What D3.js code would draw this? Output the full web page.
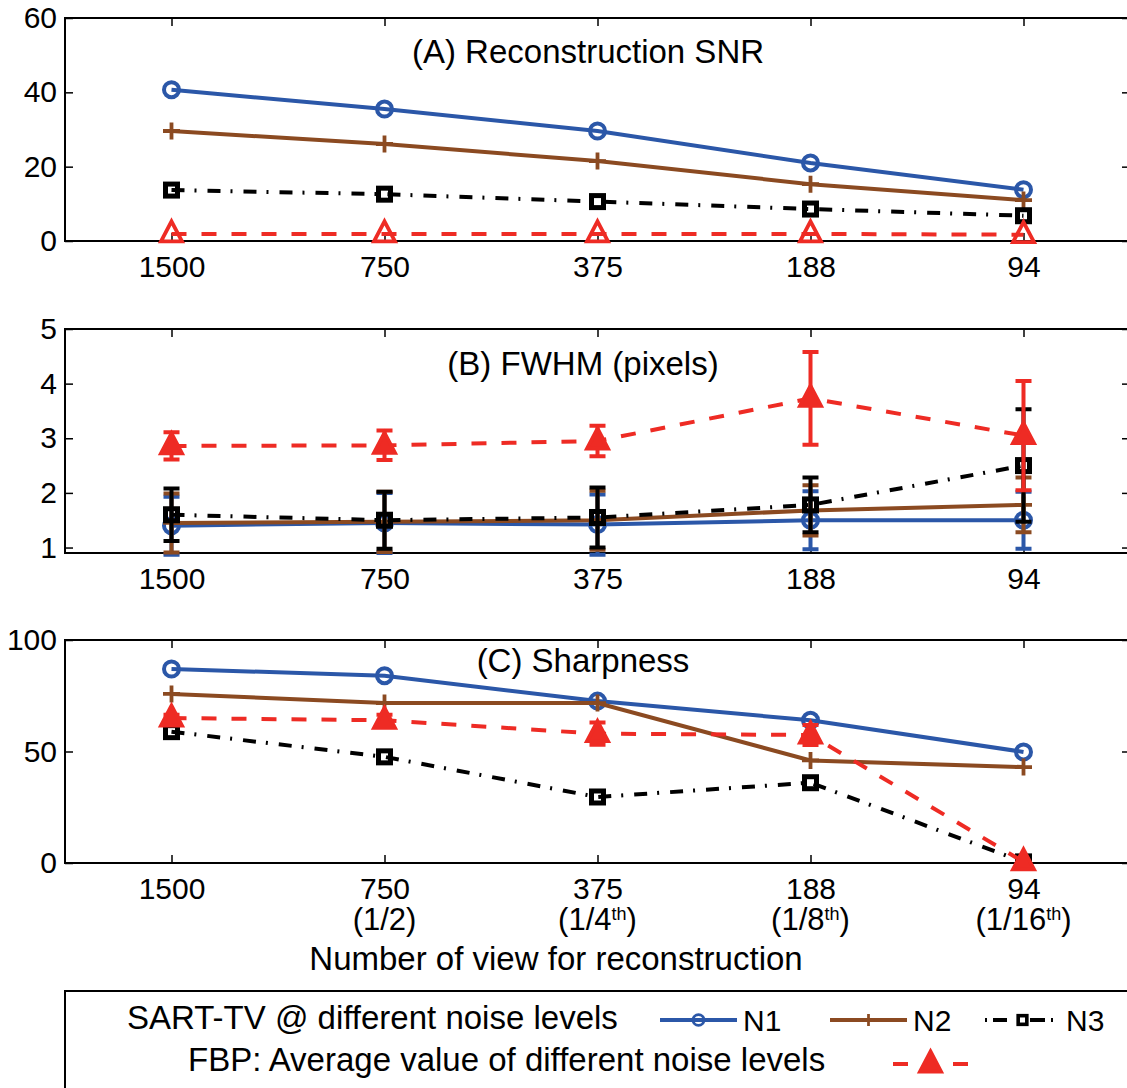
<!DOCTYPE html>
<html>
<head>
<meta charset="utf-8">
<script src="https://cdn.jsdelivr.net/npm/d3@7"></script>
<style>
  body { margin: 0; background: #fff; }
  svg text { font-family: "Liberation Sans", Arial, Helvetica, sans-serif; fill: #000; }
</style>
</head>
<body>
<svg id="chart" width="1127" height="1088"></svg>
<script>
// ---- data -------------------------------------------------------------
const views = ["1500", "750", "375", "188", "94"];
const viewFraction = ["", "1/2", "1/4", "1/8", "1/16"];
const fractionSup = ["", "", "th", "th", "th"];

// (A) reconstruction SNR
const snrN1 = [40.7, 35.5, 29.6, 21.0, 13.8];
const snrN2 = [29.6, 26.1, 21.5, 15.3, 11.0];
const snrN3 = [13.7, 12.6, 10.6, 8.6, 6.8];
const snrFBP = [1.9, 1.9, 1.9, 1.9, 1.7];

// (B) FWHM in pixels, with standard deviations
const fwhmN1 = [1.40, 1.45, 1.42, 1.50, 1.50];
const fwhmN1Err = [0.53, 0.55, 0.55, 0.53, 0.52];
const fwhmN2 = [1.45, 1.47, 1.50, 1.68, 1.78];
const fwhmN2Err = [0.54, 0.55, 0.54, 0.46, 0.50];
const fwhmN3 = [1.60, 1.50, 1.55, 1.78, 2.50];
const fwhmN3Err = [0.48, 0.52, 0.55, 0.50, 1.03];
const fwhmFBP = [2.86, 2.87, 2.95, 3.73, 3.05];
const fwhmFBPErr = [0.25, 0.27, 0.28, 0.85, 1.00];

// (C) sharpness
const sharpN1 = [87.0, 84.0, 72.6, 64.0, 49.8];
const sharpN2 = [75.8, 71.7, 71.7, 46.0, 43.0];
const sharpN3 = [58.9, 47.6, 29.6, 36.0, 0.5];
const sharpFBP = [65.0, 64.0, 58.0, 57.4, 0.5];
const sharpFBPErr = [1.5, 2.5, 5.0, 4.5, 0.0];

// ---- styles -----------------------------------------------------------
const seriesStyle = {
  N1:  { color: "#2b57a8", dash: null,           marker: "circle"   },
  N2:  { color: "#8b4a21", dash: null,           marker: "plus"     },
  N3:  { color: "#000000", dash: "13,10,2,11",   marker: "square"   },
  FBP: { color: "#ee2b24", dash: "15,15",        marker: "triangle" }
};

const panels = [
  { title: "(A) Reconstruction SNR", titleX: 588, titleY: 63,
    top: 18, bottom: 241, domain: [0, 60], ticks: [0, 20, 40, 60], filledTri: false,
    series: [["N1", snrN1], ["N2", snrN2], ["N3", snrN3], ["FBP", snrFBP]] },
  { title: "(B) FWHM (pixels)", titleX: 583, titleY: 375,
    top: 329, bottom: 553, domain: [0.9, 5], ticks: [1, 2, 3, 4, 5], filledTri: true,
    series: [["N1", fwhmN1, fwhmN1Err], ["N2", fwhmN2, fwhmN2Err],
             ["N3", fwhmN3, fwhmN3Err], ["FBP", fwhmFBP, fwhmFBPErr]] },
  { title: "(C) Sharpness", titleX: 583, titleY: 672,
    top: 640, bottom: 863, domain: [0, 100], ticks: [0, 50, 100], filledTri: true,
    series: [["N1", sharpN1], ["N2", sharpN2], ["N3", sharpN3], ["FBP", sharpFBP, sharpFBPErr]] }
];

const svg = d3.select("#chart");
const left = 65, right = 1130;
const x = d3.scaleLinear().domain([0.5, 5.5]).range([left, right]);
const tickIdx = d3.range(1, views.length + 1);

function drawMarker(g, type, cx, cy, color, filled, scale = 1) {
  if (type === "circle") {
    g.append("circle").attr("cx", cx).attr("cy", cy).attr("r", 7.5 * scale)
      .attr("fill", "none").attr("stroke", color).attr("stroke-width", 4 * scale);
  } else if (type === "plus") {
    const a = 8.5 * scale;
    g.append("path").attr("d", `M${cx - a},${cy}H${cx + a}M${cx},${cy - a}V${cy + a}`)
      .attr("stroke", color).attr("stroke-width", 3.8 * scale).attr("fill", "none");
  } else if (type === "square") {
    const s = 12 * scale;
    g.append("rect").attr("x", cx - s / 2).attr("y", cy - s / 2).attr("width", s).attr("height", s)
      .attr("fill", "none").attr("stroke", color).attr("stroke-width", 5 * scale);
  } else if (type === "triangle") {
    const w = 10.5 * scale, t = 12.5 * scale, b = 7.5 * scale;
    g.append("path").attr("d", `M${cx},${cy - t}L${cx + w},${cy + b}L${cx - w},${cy + b}Z`)
      .attr("fill", filled ? color : "none").attr("stroke", color)
      .attr("stroke-width", 3.8 * scale).attr("stroke-linejoin", "miter");
  }
}

panels.forEach(p => {
  const y = d3.scaleLinear().domain(p.domain).range([p.bottom, p.top]);
  const g = svg.append("g");

  // tick marks on all four sides, pointing inward
  g.append("g").attr("transform", `translate(0,${p.bottom})`)
    .call(d3.axisBottom(x).tickValues(tickIdx).tickFormat(i => views[i - 1])
      .tickSizeInner(-8).tickSizeOuter(0).tickPadding(15))
    .call(a => a.select(".domain").remove())
    .call(a => a.selectAll("text").attr("font-size", 30).attr("font-family", null));
  g.append("g").attr("transform", `translate(0,${p.top})`)
    .call(d3.axisTop(x).tickValues(tickIdx).tickFormat("").tickSizeInner(-8).tickSizeOuter(0))
    .call(a => a.select(".domain").remove());
  g.append("g").attr("transform", `translate(${left},0)`)
    .call(d3.axisLeft(y).tickValues(p.ticks).tickFormat(d3.format("d"))
      .tickSizeInner(-8).tickSizeOuter(0).tickPadding(8))
    .call(a => a.select(".domain").remove())
    .call(a => a.selectAll("text").attr("font-size", 30).attr("font-family", null));
  g.append("g").attr("transform", `translate(${right},0)`)
    .call(d3.axisRight(y).tickValues(p.ticks).tickFormat("").tickSizeInner(-8).tickSizeOuter(0))
    .call(a => a.select(".domain").remove());
  g.selectAll(".tick line").attr("stroke", "#000").attr("stroke-width", 1.5);

  // axes box
  g.append("rect").attr("x", left).attr("y", p.top)
    .attr("width", right - left).attr("height", p.bottom - p.top)
    .attr("fill", "none").attr("stroke", "#000").attr("stroke-width", 2);

  g.append("text").attr("x", p.titleX).attr("y", p.titleY)
    .attr("text-anchor", "middle").attr("font-size", 33).text(p.title);

  const line = d3.line().x((d, i) => x(i + 1)).y(d => y(d));
  p.series.forEach(([name, vals, errs]) => {
    const st = seriesStyle[name];
    const sg = g.append("g");
    if (errs) {
      vals.forEach((v, i) => {
        if (!errs[i]) return;
        const cx = x(i + 1), y0 = y(v - errs[i]), y1 = y(v + errs[i]);
        sg.append("path")
          .attr("d", `M${cx},${y0}V${y1}M${cx - 8},${y0}H${cx + 8}M${cx - 8},${y1}H${cx + 8}`)
          .attr("stroke", st.color).attr("stroke-width", 4).attr("fill", "none");
      });
    }
    sg.append("path").datum(vals).attr("d", line)
      .attr("fill", "none").attr("stroke", st.color).attr("stroke-width", 4)
      .attr("stroke-dasharray", st.dash);
    vals.forEach((v, i) => drawMarker(sg, st.marker, x(i + 1), y(v), st.color, p.filledTri));
  });
});

// second line of the bottom tick labels: fraction of full view count
const fracG = svg.append("g");
viewFraction.forEach((f, i) => {
  if (!f) return;
  const t = fracG.append("text").attr("x", x(i + 1)).attr("y", 930)
    .attr("text-anchor", "middle").attr("font-size", 31);
  t.append("tspan").text("(" + f);
  if (fractionSup[i]) {
    t.append("tspan").attr("font-size", 18).attr("dy", -10).text(fractionSup[i]);
    t.append("tspan").attr("dy", 10).text(")");
  } else {
    t.append("tspan").text(")");
  }
});

svg.append("text").attr("x", 556).attr("y", 970).attr("text-anchor", "middle")
  .attr("font-size", 33).text("Number of view for reconstruction");

// ---- legend -----------------------------------------------------------
const lg = svg.append("g");
lg.append("rect").attr("x", 65).attr("y", 991).attr("width", 1100).attr("height", 200)
  .attr("fill", "#fff").attr("stroke", "#000").attr("stroke-width", 2);
lg.append("text").attr("x", 127).attr("y", 1029).attr("font-size", 33)
  .text("SART-TV @ different noise levels");
lg.append("text").attr("x", 188).attr("y", 1071).attr("font-size", 33)
  .text("FBP: Average value of different noise levels");

const legendItems = [
  { name: "N1", x0: 660, x1: 737, yy: 1020, label: "N1", lx: 743, dash: null },
  { name: "N2", x0: 830, x1: 907, yy: 1020, label: "N2", lx: 913, dash: null },
  { name: "N3", x0: 985, x1: 1060, yy: 1020, label: "N3", lx: 1066, dash: "2,6,14,23,15,6,2,30" },
  { name: "FBP", x0: 893, x1: 968, yy: 1064, label: "", lx: 0, dash: "15,45,15" }
];
legendItems.forEach(it => {
  const st = seriesStyle[it.name];
  lg.append("line").attr("x1", it.x0).attr("x2", it.x1).attr("y1", it.yy).attr("y2", it.yy)
    .attr("stroke", st.color).attr("stroke-width", 4)
    .attr("stroke-dasharray", it.dash);
  drawMarker(lg, st.marker, (it.x0 + it.x1) / 2, it.yy, st.color, true, it.name === "FBP" ? 1.0 : 0.72);
  if (it.label) lg.append("text").attr("x", it.lx).attr("y", 1031).attr("font-size", 30).text(it.label);
});
</script>
</body>
</html>
